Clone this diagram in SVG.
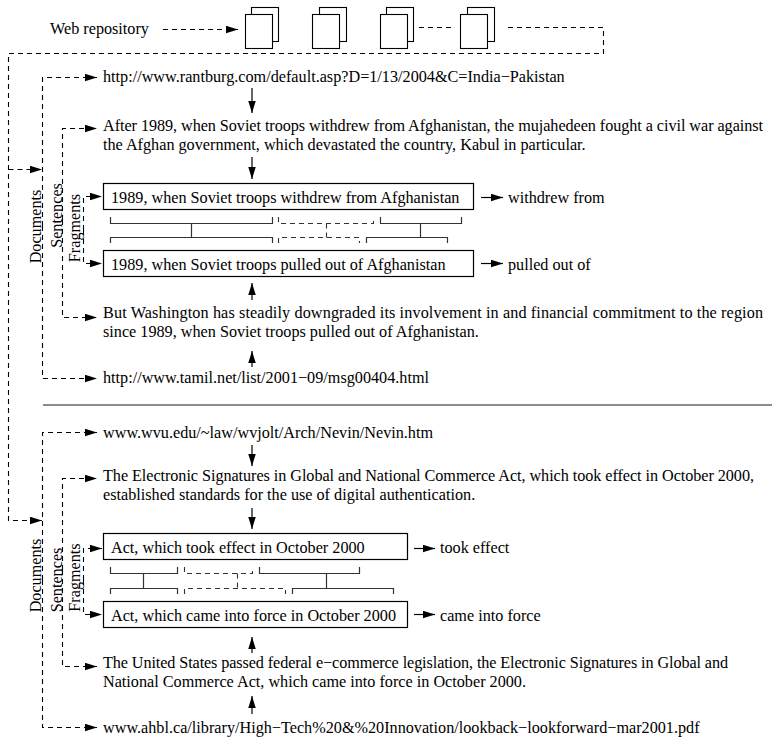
<svg xmlns="http://www.w3.org/2000/svg" width="772" height="741" viewBox="0 0 772 741">
<style>
text{font-family:"Liberation Serif","Times New Roman",serif;font-size:16.2px;fill:#000}
.d{fill:none;stroke:#000;stroke-width:1.1;stroke-dasharray:5,4}
.s{fill:none;stroke:#000;stroke-width:1.2}
.br{fill:none;stroke:#333;stroke-width:1.2}
.bd{fill:none;stroke:#333;stroke-width:1.1;stroke-dasharray:5,4}
.box{fill:#fff;stroke:#000;stroke-width:1.2}
.pg{fill:#fff;stroke:#000;stroke-width:1.1}
</style>
<defs>
<marker id="ah" markerUnits="userSpaceOnUse" markerWidth="13" markerHeight="8" refX="12" refY="3.75" orient="auto">
<path d="M0,0 L12,3.75 L0,7.5 z" fill="#000"/>
</marker>
</defs>

<g id="web-repository">
<text x="50" y="34">Web repository</text>
<g id="doc1"><rect class="pg" x="251.5" y="7.5" width="27" height="34"/><rect class="pg" x="245.5" y="14.5" width="27" height="34"/></g>
<g id="doc2"><rect class="pg" x="319.5" y="7.5" width="27" height="34"/><rect class="pg" x="312.5" y="14.5" width="27" height="34"/></g>
<g id="doc3"><rect class="pg" x="386.5" y="7.5" width="27" height="34"/><rect class="pg" x="380.5" y="14.5" width="27" height="34"/></g>
<g id="doc4"><rect class="pg" x="467.5" y="7.5" width="27" height="34"/><rect class="pg" x="460.5" y="14.5" width="27" height="34"/></g>
</g>

<g id="connectors">
<path class="d" d="M163,29.5 H238" marker-end="url(#ah)"/>
<path class="d" d="M419,27.5 H454"/>
<path class="d" d="M508,27.5 H603.5 V53.5 H8.5 V520.5 H42" marker-end="url(#ah)"/>
<path class="d" d="M8.5,169.5 H42" marker-end="url(#ah)"/>

<path class="d" d="M42.5,226 V77.5 H97" marker-end="url(#ah)"/>
<path class="d" d="M42.5,226 V378.5 H97" marker-end="url(#ah)"/>
<path class="d" d="M62.5,220 V128.5 H97" marker-end="url(#ah)"/>
<path class="d" d="M62.5,220 V317.5 H97" marker-end="url(#ah)"/>
<path class="d" d="M83.5,230 V196.5 H102" marker-end="url(#ah)"/>
<path class="d" d="M83.5,230 V263.5 H102" marker-end="url(#ah)"/>

<path class="s" d="M252,88 V113" marker-end="url(#ah)"/>
<path class="s" d="M252,157 V179" marker-end="url(#ah)"/>
<path class="s" d="M252,300 V283" marker-end="url(#ah)"/>
<path class="s" d="M252,367 V351" marker-end="url(#ah)"/>
<path class="s" d="M481,197.5 H503" marker-end="url(#ah)"/>
<path class="s" d="M481,263.5 H503" marker-end="url(#ah)"/>

<path class="br" d="M110.5,217 V223.5 H272.5 V217 M191.5,223.5 V237.5 M110.5,243 V237.5 H272.5 V243"/>
<path class="bd" d="M278.5,217 V223.5 H373.5 V217 M326.5,223.5 V237.5 M278.5,243 V237.5 H359.5 V243"/>
<path class="br" d="M380.5,217 V223.5 H461.5 V217 M420.5,223.5 V237.5 M366.5,243 V237.5 H447.5 V243"/>

<line x1="43" y1="405" x2="772" y2="405" stroke="#666" stroke-width="1.5"/>

<path class="d" d="M42.5,580 V432.5 H97" marker-end="url(#ah)"/>
<path class="d" d="M42.5,580 V727.5 H97" marker-end="url(#ah)"/>
<path class="d" d="M62.5,570 V478.5 H97" marker-end="url(#ah)"/>
<path class="d" d="M62.5,570 V666.5 H97" marker-end="url(#ah)"/>
<path class="d" d="M83.5,580 V548.5 H102" marker-end="url(#ah)"/>
<path class="d" d="M83.5,580 V614.5 H102" marker-end="url(#ah)"/>

<path class="s" d="M252,445 V466" marker-end="url(#ah)"/>
<path class="s" d="M252,508 V529" marker-end="url(#ah)"/>
<path class="s" d="M252,653 V637" marker-end="url(#ah)"/>
<path class="s" d="M252,714 V696" marker-end="url(#ah)"/>
<path class="s" d="M414,548.5 H435" marker-end="url(#ah)"/>
<path class="s" d="M414,614.5 H435" marker-end="url(#ah)"/>

<path class="br" d="M110.5,567 V573.5 H177.5 V567 M143.5,573.5 V588.5 M110.5,594 V588.5 H177.5 V594"/>
<path class="bd" d="M184.5,567 V573.5 H252.5 V567 M237.5,573.5 V588.5 M184.5,594 V588.5 H285.5 V594"/>
<path class="br" d="M259.5,567 V573.5 H359.5 V567 M326.5,573.5 V588.5 M292.5,594 V588.5 H393.5 V594"/>
</g>

<g id="labels">
<text transform="translate(40.5,226.5) rotate(-90)" text-anchor="middle">Documents</text>
<text transform="translate(61.5,215.5) rotate(-90)" text-anchor="middle">Sentences</text>
<text transform="translate(79.5,228) rotate(-90)" text-anchor="middle">Fragments</text>
<text transform="translate(40.5,575.5) rotate(-90)" text-anchor="middle">Documents</text>
<text transform="translate(61.5,580) rotate(-90)" text-anchor="middle">Sentences</text>
<text transform="translate(79.5,577.5) rotate(-90)" text-anchor="middle">Fragments</text>
</g>

<g id="doc-rantburg"><text x="103" y="82">http://www.rantburg.com/default.asp?D=1/13/2004&amp;C=India−Pakistan</text></g>
<g id="sent-after-1989">
<text x="103" y="131" textLength="660" lengthAdjust="spacing">After 1989, when Soviet troops withdrew from Afghanistan, the mujahedeen fought a civil war against</text>
<text x="103" y="150">the Afghan government, which devastated the country, Kabul in particular.</text>
</g>
<g id="frag-withdrew">
<rect class="box" x="103.5" y="183.5" width="370" height="26"/>
<text x="111" y="203">1989, when Soviet troops withdrew from Afghanistan</text>
</g>
<g id="para-withdrew"><text x="508" y="203">withdrew from</text></g>
<g id="frag-pulled">
<rect class="box" x="103.5" y="250.5" width="370" height="26"/>
<text x="111" y="270">1989, when Soviet troops pulled out of Afghanistan</text>
</g>
<g id="para-pulled"><text x="508" y="270">pulled out of</text></g>
<g id="sent-washington">
<text x="103" y="318" textLength="660" lengthAdjust="spacing">But Washington has steadily downgraded its involvement in and financial commitment to the region</text>
<text x="103" y="337">since 1989, when Soviet troops pulled out of Afghanistan.</text>
</g>
<g id="doc-tamil"><text x="103" y="383">http://www.tamil.net/list/2001−09/msg00404.html</text></g>

<g id="doc-wvu"><text x="103" y="438">www.wvu.edu/~law/wvjolt/Arch/Nevin/Nevin.htm</text></g>
<g id="sent-electronic">
<text x="103" y="481" textLength="651" lengthAdjust="spacing">The Electronic Signatures in Global and National Commerce Act, which took effect in October 2000,</text>
<text x="103" y="500">established standards for the use of digital authentication.</text>
</g>
<g id="frag-took">
<rect class="box" x="103.5" y="533.5" width="304" height="26"/>
<text x="111" y="553">Act, which took effect in October 2000</text>
</g>
<g id="para-took"><text x="440" y="553">took effect</text></g>
<g id="frag-came">
<rect class="box" x="103.5" y="601.5" width="304" height="26"/>
<text x="111" y="621">Act, which came into force in October 2000</text>
</g>
<g id="para-came"><text x="440" y="621">came into force</text></g>
<g id="sent-united">
<text x="103" y="668" textLength="625" lengthAdjust="spacing">The United States passed federal e−commerce legislation, the Electronic Signatures in Global and</text>
<text x="103" y="687">National Commerce Act, which came into force in October 2000.</text>
</g>
<g id="doc-ahbl"><text x="103" y="733">www.ahbl.ca/library/High−Tech%20&amp;%20Innovation/lookback−lookforward−mar2001.pdf</text></g>
</svg>
